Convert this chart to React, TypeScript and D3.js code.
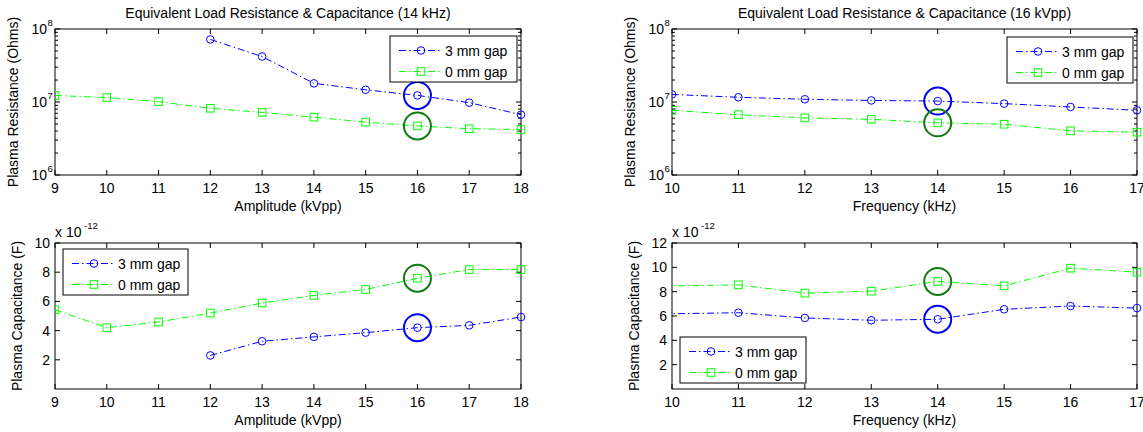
import React from "react";
import * as d3 from "d3";

// ---------- data ----------
const amplitude = [9, 10, 11, 12, 13, 14, 15, 16, 17, 18];
const amplitude3mm = [12, 13, 14, 15, 16, 17, 18];
const resAmp3mm = [7.2e7, 4.2e7, 1.8e7, 1.47e7, 1.23e7, 9.8e6, 6.7e6];
const resAmp0mm = [1.23e7, 1.15e7, 1.01e7, 8.2e6, 7.2e6, 6.2e6, 5.3e6, 4.7e6, 4.3e6, 4.2e6];
const capAmp3mm = [2.3e-12, 3.27e-12, 3.57e-12, 3.86e-12, 4.2e-12, 4.36e-12, 4.93e-12];
const capAmp0mm = [5.43e-12, 4.2e-12, 4.59e-12, 5.2e-12, 5.89e-12, 6.41e-12, 6.82e-12, 7.59e-12, 8.18e-12, 8.18e-12];

const frequency = [10, 11, 12, 13, 14, 15, 16, 17];
const resFreq3mm = [1.27e7, 1.16e7, 1.09e7, 1.05e7, 1.03e7, 9.5e6, 8.55e6, 7.7e6];
const resFreq0mm = [7.7e6, 6.7e6, 6.05e6, 5.8e6, 5.18e6, 4.96e6, 4.03e6, 3.86e6];
const capFrequency = [9, 11, 12, 13, 14, 15, 16, 17];
const capFreq3mm = [6.1e-12, 6.27e-12, 5.84e-12, 5.65e-12, 5.73e-12, 6.55e-12, 6.82e-12, 6.65e-12];
const capFreq0mm = [8.4e-12, 8.56e-12, 7.88e-12, 8.04e-12, 8.84e-12, 8.48e-12, 9.93e-12, 9.6e-12];

const seriesNames = ["3 mm gap", "0 mm gap"];
const ampTicks = [9, 10, 11, 12, 13, 14, 15, 16, 17, 18];
const freqTicks = [10, 11, 12, 13, 14, 15, 16, 17];
const capTicksAmp = [2, 4, 6, 8, 10];
const capTicksFreq = [2, 4, 6, 8, 10, 12];

const BLUE = "#0000ff";
const GREEN = "#00ff00";
const HL_BLUE = "#0000f0";
const HL_GREEN = "#127a12";
const FONT = "'Liberation Sans', Arial, Helvetica, sans-serif";
const DASH = "7,3,1.5,3";
const FS = 14;

type Series = { xs: number[]; ys: number[]; color: string; marker: "circle" | "square"; name: string };

type PanelProps = {
  left: number; right: number; top: number; bottom: number;
  xDomain: [number, number]; xTicks: number[];
  log: boolean; yDomain: [number, number]; yTicks?: number[]; yScaleFactor?: number;
  series: Series[];
  highlightX: number;
  legend: { x: number; y: number; w: number; h: number };
  title?: string; xLabel: string; yLabel: string; yLabelX: number;
  id: string;
};

function Marker({ x, y, type, color }: { x: number; y: number; type: string; color: string }) {
  if (type === "circle") return <circle cx={x} cy={y} r={3.8} fill="none" stroke={color} strokeWidth={1} />;
  return <rect x={x - 3.8} y={y - 3.8} width={7.6} height={7.6} fill="none" stroke={color} strokeWidth={1} />;
}

function Panel(p: PanelProps) {
  const x = d3.scaleLinear().domain(p.xDomain).range([p.left, p.right]);
  const y = p.log
    ? d3.scaleLog().domain(p.yDomain).range([p.bottom, p.top])
    : d3.scaleLinear().domain(p.yDomain).range([p.bottom, p.top]);
  const line = d3.line<[number, number]>().x((d) => x(d[0])).y((d) => y(d[1]));
  const f = p.yScaleFactor ?? 1;

  const tickEls: React.ReactNode[] = [];
  p.xTicks.forEach((t, i) => {
    const xx = x(t);
    tickEls.push(<line key={"xb" + i} x1={xx} x2={xx} y1={p.bottom} y2={p.bottom - 5} stroke="#000" />);
    tickEls.push(<line key={"xt" + i} x1={xx} x2={xx} y1={p.top} y2={p.top + 5} stroke="#000" />);
    tickEls.push(
      <text key={"xl" + i} x={xx} y={p.bottom + 18} textAnchor="middle" fontSize={FS} fontFamily={FONT} fill="#000">{t}</text>
    );
  });

  if (p.log) {
    const all = (y as d3.ScaleLogarithmic<number, number>).ticks();
    all.forEach((t, i) => {
      const yy = y(t);
      const e = Math.log10(t);
      const major = Math.abs(e - Math.round(e)) < 1e-9;
      const len = major ? 5 : 3;
      tickEls.push(<line key={"yl" + i} x1={p.left} x2={p.left + len} y1={yy} y2={yy} stroke="#000" />);
      tickEls.push(<line key={"yr" + i} x1={p.right} x2={p.right - len} y1={yy} y2={yy} stroke="#000" />);
      if (major) {
        tickEls.push(
          <text key={"ylab" + i} x={p.left - 8} y={yy + 4.5} textAnchor="end" fontSize={FS} fontFamily={FONT} fill="#000">
            10
          </text>
        );
        tickEls.push(
          <text key={"ysup" + i} x={p.left - 7.5} y={yy - 3} textAnchor="start" fontSize={9.5} fontFamily={FONT} fill="#000">
            {Math.round(e)}
          </text>
        );
      }
    });
  } else {
    (p.yTicks || []).forEach((t, i) => {
      const yy = y(t * f);
      tickEls.push(<line key={"yl" + i} x1={p.left} x2={p.left + 5} y1={yy} y2={yy} stroke="#000" />);
      tickEls.push(<line key={"yr" + i} x1={p.right} x2={p.right - 5} y1={yy} y2={yy} stroke="#000" />);
      tickEls.push(
        <text key={"ylab" + i} x={p.left - 5} y={yy + 5} textAnchor="end" fontSize={FS} fontFamily={FONT} fill="#000">{t}</text>
      );
    });
  }

  const clipId = "clip-" + p.id;
  const midX = (p.left + p.right) / 2;
  const midY = (p.top + p.bottom) / 2;

  return (
    <g>
      <defs>
        <clipPath id={clipId}>
          <rect x={p.left} y={p.top - 20} width={p.right - p.left + 20} height={p.bottom - p.top + 40} />
        </clipPath>
      </defs>
      {p.title && (
        <text x={midX} y={p.top - 11} textAnchor="middle" fontSize={FS} fontFamily={FONT} fill="#000">{p.title}</text>
      )}
      <rect x={p.left} y={p.top} width={p.right - p.left} height={p.bottom - p.top} fill="#fff" stroke="#000" strokeWidth={1} />
      {tickEls}
      <g clipPath={`url(#${clipId})`}>
        {p.series.map((s, si) => (
          <g key={si}>
            <path
              d={line(s.xs.map((xv, i) => [xv, s.ys[i]] as [number, number])) || ""}
              fill="none" stroke={s.color} strokeWidth={1} strokeDasharray={DASH}
            />
            {s.xs.map((xv, i) => (
              <Marker key={i} x={x(xv)} y={y(s.ys[i])} type={s.marker} color={s.color} />
            ))}
          </g>
        ))}
        {p.series.map((s, si) => {
          const idx = s.xs.indexOf(p.highlightX);
          if (idx < 0) return null;
          return (
            <circle key={"hl" + si} cx={x(p.highlightX)} cy={y(s.ys[idx])} r={13.5} fill="none"
              stroke={si === 0 ? HL_BLUE : HL_GREEN} strokeWidth={2} />
          );
        })}
      </g>
      {/* legend */}
      <g>
        <rect x={p.legend.x} y={p.legend.y} width={p.legend.w} height={p.legend.h} fill="#fff" stroke="#000" strokeWidth={1} />
        {p.series.map((s, si) => {
          const ly = p.legend.y + 14.5 + si * 21;
          const lx = p.legend.x;
          return (
            <g key={"lg" + si}>
              <line x1={lx + 9} x2={lx + 50} y1={ly} y2={ly} stroke={s.color} strokeWidth={1} strokeDasharray={DASH} />
              <Marker x={lx + 31} y={ly} type={s.marker} color={s.color} />
              <text x={lx + 55} y={ly + 5} fontSize={FS} fontFamily={FONT} fill="#000">{s.name}</text>
            </g>
          );
        })}
      </g>
      {/* axis labels */}
      <text x={midX} y={p.bottom + 36} textAnchor="middle" fontSize={FS} fontFamily={FONT} fill="#000">{p.xLabel}</text>
      <text transform={`translate(${p.yLabelX},${midY}) rotate(-90)`} textAnchor="middle" fontSize={FS} fontFamily={FONT} fill="#000">
        {p.yLabel}
      </text>
      {p.yScaleFactor && (
        <g>
          <text x={p.left} y={p.top - 6} fontSize={FS} fontFamily={FONT} fill="#000">x 10</text>
          <text x={p.left + 29} y={p.top - 14} fontSize={9.5} fontFamily={FONT} fill="#000">-12</text>
        </g>
      )}
    </g>
  );
}

export default function App() {
  const L1 = 55, R1 = 521, L2 = 672, R2 = 1137;
  const T1 = 29, B1 = 175, T2 = 243, B2 = 389;
  return (
    <svg width={1143} height={432} style={{ position: "absolute", left: 0, top: 0, background: "#fff" }}>
      <rect x={0} y={0} width={1143} height={432} fill="#fff" />
      <Panel id="p1" left={L1} right={R1} top={T1} bottom={B1}
        xDomain={[9, 18]} xTicks={ampTicks} log={true} yDomain={[1e6, 1e8]}
        series={[
          { xs: amplitude3mm, ys: resAmp3mm, color: BLUE, marker: "circle", name: seriesNames[0] },
          { xs: amplitude, ys: resAmp0mm, color: GREEN, marker: "square", name: seriesNames[1] },
        ]}
        highlightX={16}
        legend={{ x: 390, y: 36, w: 127, h: 46 }}
        title="Equivalent Load Resistance & Capacitance (14 kHz)"
        xLabel="Amplitude (kVpp)" yLabel="Plasma Resistance (Ohms)" yLabelX={18} />
      <Panel id="p2" left={L2} right={R2} top={T1} bottom={B1}
        xDomain={[10, 17]} xTicks={freqTicks} log={true} yDomain={[1e6, 1e8]}
        series={[
          { xs: frequency, ys: resFreq3mm, color: BLUE, marker: "circle", name: seriesNames[0] },
          { xs: frequency, ys: resFreq0mm, color: GREEN, marker: "square", name: seriesNames[1] },
        ]}
        highlightX={14}
        legend={{ x: 1007, y: 37, w: 126, h: 46 }}
        title="Equivalent Load Resistance & Capacitance (16 kVpp)"
        xLabel="Frequency (kHz)" yLabel="Plasma Resistance (Ohms)" yLabelX={635} />
      <Panel id="p3" left={L1} right={R1} top={T2} bottom={B2}
        xDomain={[9, 18]} xTicks={ampTicks} log={false} yDomain={[0, 10e-12]} yTicks={capTicksAmp} yScaleFactor={1e-12}
        series={[
          { xs: amplitude3mm, ys: capAmp3mm, color: BLUE, marker: "circle", name: seriesNames[0] },
          { xs: amplitude, ys: capAmp0mm, color: GREEN, marker: "square", name: seriesNames[1] },
        ]}
        highlightX={16}
        legend={{ x: 63, y: 249, w: 125, h: 46 }}
        xLabel="Amplitude (kVpp)" yLabel="Plasma Capacitance (F)" yLabelX={22} />
      <Panel id="p4" left={L2} right={R2} top={T2} bottom={B2}
        xDomain={[10, 17]} xTicks={freqTicks} log={false} yDomain={[0, 12e-12]} yTicks={capTicksFreq} yScaleFactor={1e-12}
        series={[
          { xs: capFrequency, ys: capFreq3mm, color: BLUE, marker: "circle", name: seriesNames[0] },
          { xs: capFrequency, ys: capFreq0mm, color: GREEN, marker: "square", name: seriesNames[1] },
        ]}
        highlightX={14}
        legend={{ x: 680, y: 337, w: 126, h: 46 }}
        xLabel="Frequency (kHz)" yLabel="Plasma Capacitance (F)" yLabelX={639} />
    </svg>
  );
}
